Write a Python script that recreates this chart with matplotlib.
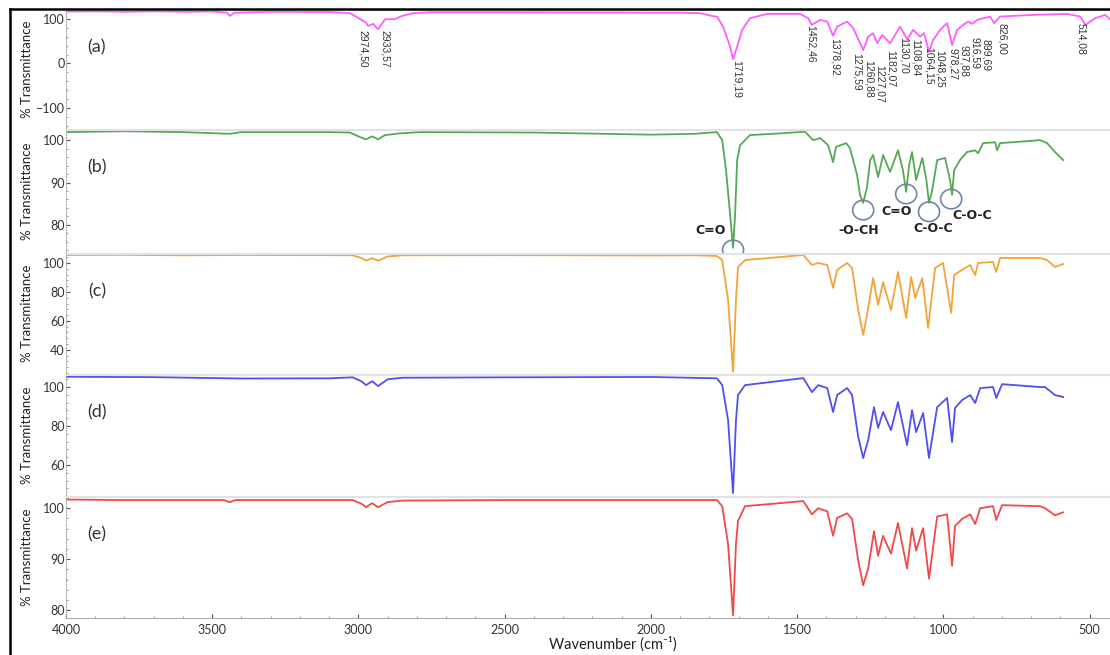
import numpy as np
import matplotlib.pyplot as plt
from matplotlib.patches import Ellipse
from matplotlib.ticker import AutoMinorLocator, MultipleLocator

plt.rcParams['font.family'] = ['Lato', 'DejaVu Sans']

# ---- spectra (wavenumber, % transmittance) ----
wn_a = [4000, 3900, 3800, 3700, 3600, 3500, 3450, 3439, 3425, 3300, 3100, 3029, 2995,
        2974, 2967, 2950, 2933, 2909, 2875, 2851, 2813, 2755, 2500, 2200, 2000, 1900,
        1832, 1787, 1774, 1753, 1729, 1719, 1705, 1688, 1661, 1603, 1490, 1462, 1450,
        1421, 1397, 1377, 1363, 1329, 1308, 1274, 1257, 1240, 1226, 1209, 1182, 1148,
        1124, 1103, 1079, 1066, 1049, 1035, 1011, 987, 970, 953, 932, 915, 902, 884,
        864, 840, 826, 806, 693, 577, 532, 514, 481, 447, 430]
t_a = [116.5, 117, 116, 117, 116, 116.5, 114, 106.7, 114, 116, 115.5, 112.8, 100,
       91.7, 84.3, 88.8, 76.8, 99.3, 99.3, 106.7, 112.8, 115, 115, 114.5, 114, 114,
       112.8, 106, 105.2, 82.7, 37.8, 9.4, 37.8, 75.3, 101.5, 111.2, 111.2, 101.5, 86.5,
       97.8, 94, 61.8, 82.7, 94, 79.1, 30.3, 60.2, 67.8, 45.4, 64, 45.4, 82.7,
       54.4, 75.3, 60.2, 67.8, 26.5, 52.8, 75.3, 90.3, 41.6, 75.3, 86.5, 94, 88.8, 97.8,
       101.5, 105.2, 90.3, 105.2, 109, 111.2, 105.2, 86.5, 101.5, 109, 99.3]

wn_b = [4000, 3800, 3600, 3439, 3400, 3100, 3029, 2994, 2974, 2953, 2933, 2909, 2858,
        2789, 2400, 2003, 1850, 1774, 1756, 1743, 1729, 1719, 1712, 1705, 1695, 1661,
        1558, 1473, 1445, 1421, 1394, 1377, 1367, 1332, 1319, 1295, 1285, 1274, 1261,
        1250, 1240, 1223, 1206, 1182, 1155, 1138, 1127, 1117, 1107, 1093, 1072, 1058,
        1049, 1038, 1021, 994, 977, 970, 963, 943, 919, 891, 881, 864, 823, 816, 806,
        669, 645, 618, 590]
t_b = [101.9, 102.1, 101.9, 101.5, 101.9, 101.9, 101.8, 100.7, 100.2, 100.9, 100.2, 101.2, 101.6,
       101.9, 101.8, 101.3, 101.5, 101.9, 100, 92.9, 82.4, 74.6, 82.4, 95.3, 98.8, 101.2,
       101.6, 102, 100, 100.5, 98.8, 94.8, 98.4, 99.3, 98.1, 91.8, 87.1, 85.2, 88.9,
       95.3, 96.5, 91.3, 96.5, 92.5, 97.6, 92.9, 87.8, 94.1, 97.2, 90.6, 95.8, 90.6,
       85.2, 88.2, 95.3, 95.8, 90.6, 87.1, 92.9, 95.3, 97.2, 97.6, 96.9, 99.3, 99.5, 97.6, 99.3,
       100, 99.3, 97.2, 95.3]

wn_c = [4000, 3800, 3600, 3400, 3100, 3020, 2990, 2974, 2953, 2933, 2900, 2850, 2500,
        2000, 1850, 1774, 1756, 1736, 1719, 1709, 1702, 1678, 1479, 1449, 1428, 1397,
        1377, 1363, 1329, 1312, 1291, 1274, 1261, 1240, 1223, 1206, 1179, 1155, 1127,
        1110, 1096, 1072, 1052, 1028, 1001, 973, 963, 936, 908, 891, 881, 830, 819,
        806, 669, 645, 618, 590]
t_c = [105.5, 105.6, 105.3, 105.5, 105.4, 105.3, 103.5, 101.6, 103.3, 101.6, 104.5, 105.3, 105.4,
       105.2, 105.3, 104.8, 102, 74.5, 24.8, 74.5, 97.2, 102, 105.5, 98.6, 100, 98.6,
       82.8, 95.2, 100, 96.5, 67.6, 50.3, 64.1, 89.6, 71, 86.9, 67.6, 93.8, 62,
       90.3, 75.8, 89.6, 55.1, 96.5, 100, 65.5, 91.7, 95.2, 98.6, 91.7, 100, 100.7, 93.8,
       103.4, 103.4, 102, 97.2, 99.3]

wn_d = [4000, 3700, 3400, 3100, 3020, 2990, 2974, 2953, 2933, 2900, 2850, 2500, 2000,
        1774, 1756, 1736, 1719, 1709, 1702, 1678, 1479, 1449, 1428, 1397, 1377, 1363,
        1329, 1312, 1291, 1274, 1257, 1237, 1223, 1206, 1179, 1155, 1124, 1107, 1093,
        1069, 1049, 1021, 987, 970, 960, 936, 908, 891, 874, 830, 819, 799, 669, 652,
        618, 590]
t_d = [105.3, 105.1, 104.4, 104.5, 105, 103, 101, 103, 100.5, 104, 104.8, 105, 105.2,
       104.5, 101, 83, 45.6, 83, 95.9, 101, 104.6, 97.4, 101, 99.5, 87.2, 95.9,
       99.5, 95.9, 74.4, 63.6, 72.8, 89.7, 79, 87.2, 77.9, 92.3, 70.2, 88.2, 76.9,
       86.7, 63.6, 89.7, 94.4, 71.8, 89.2, 93.3, 95.9, 91.8, 99.5, 100, 94.4, 101.5, 100, 100,
       95.9, 94.9]

wn_e = [4000, 3800, 3460, 3441, 3420, 3100, 3020, 2990, 2974, 2953, 2933, 2900, 2850,
        2500, 2000, 1774, 1756, 1736, 1719, 1709, 1702, 1678, 1479, 1449, 1428, 1397,
        1377, 1363, 1329, 1312, 1291, 1274, 1257, 1237, 1223, 1206, 1179, 1155, 1124,
        1107, 1093, 1069, 1049, 1021, 987, 970, 960, 936, 908, 891, 874, 830, 819, 799,
        669, 652, 618, 590]
t_e = [101.7, 101.6, 101.6, 101.2, 101.6, 101.6, 101.6, 100.9, 100.2, 101, 100.2, 101.2, 101.5,
       101.6, 101.6, 101.6, 100.4, 93, 79, 93, 97.5, 100.4, 101.4, 98.8, 100, 99.4,
       94.6, 98.1, 99, 97.9, 89.7, 84.9, 88.2, 95.5, 90.7, 94.6, 91.1, 97.1, 88.2,
       96.1, 91.7, 96.1, 86.2, 98.4, 98.8, 88.7, 96.5, 97.9, 98.8, 96.9, 100, 100.4, 97.7, 100.6,
       100.4, 100, 98.6, 99.2]

panel_names = ['(a)', '(b)', '(c)', '(d)', '(e)']
colors = ['#ff5cff', '#55a855', '#f2a33a', '#4f4ff2', '#f24848']
ylims = [(-145, 120), (73.6, 102.4), (24, 106.2), (44.6, 106.2), (78.5, 102.2)]
yticks = [[-100, 0, 100], [80, 90, 100], [40, 60, 80, 100], [60, 80, 100], [80, 90, 100]]

# peak labels on spectrum (a): wavenumber of label, text, top of label (data units)
peak_x = [2984, 2909, 1705, 1452, 1371, 1295, 1254, 1216, 1179, 1134, 1096,
          1049, 1011, 967, 929, 891, 854, 799, 530]
peak_txt = ['2974,50', '2933,57', '1719,19', '1452,46', '1378,92', '1275,59',
            '1260,88', '1227,07', '1182,07', '1130,70', '1108,84', '1064,15',
            '1048,25', '978,27', '937,88', '916,59', '899,69', '826,00', '514,08']
peak_top = [75, 75, 8, 86, 57, 24, 8, -3, 30, 60, 55, 37, 30, 35, 42, 60, 55, 91, 91]

# functional-group marks on spectrum (b)
grp_wn = [1719, 1274, 1127, 1049, 973]
grp_t = [74.1, 83.5, 87.3, 83.1, 86.1]
grp_txt = ['C=O', '-O-CH', 'C=O', 'C-O-C', 'C-O-C']
grp_txt_wn = [1797, 1291, 1161, 1035, 902]
grp_txt_t = [78.6, 78.6, 83.1, 79.1, 82.1]

W, H = 1110, 655
# panel extents in pixels (top, bottom)
rows = [(10, 128), (130, 252), (254, 373), (375, 495), (497, 618)]
xs = [wn_a, wn_b, wn_c, wn_d, wn_e]
ys = [t_a, t_b, t_c, t_d, t_e]

fig = plt.figure(figsize=(W / 100, H / 100), dpi=100)
axes = []
for i, (top, bot) in enumerate(rows):
    ax = fig.add_axes([66 / W, 1 - bot / H, 1 - 66 / W, (bot - top) / H])
    ax.plot(xs[i], ys[i], color=colors[i], lw=1.3)
    ax.set_xlim(4000, 430)
    ax.set_ylim(*ylims[i])
    ax.set_yticks(yticks[i])
    ax.yaxis.set_minor_locator(AutoMinorLocator(5))
    ax.xaxis.set_major_locator(MultipleLocator(500))
    ax.xaxis.set_minor_locator(MultipleLocator(100))
    ax.tick_params(axis='y', which='major', labelsize=9, length=3, direction='in',
                   colors='#555', labelcolor='#333', pad=1)
    ax.tick_params(axis='y', which='minor', length=1.5, direction='in', colors='#888')
    ax.tick_params(axis='x', which='major', labelsize=9, length=3, direction='in',
                   colors='#555', labelcolor='#333', pad=4)
    ax.tick_params(axis='x', which='minor', length=1.5, direction='in', colors='#888')
    ax.spines['right'].set_visible(False)
    ax.spines['left'].set_color('#aaaaaa')
    ax.spines['left'].set_linestyle((0, (1, 1.5)))
    ax.spines['top'].set_color('#e2e2e2')
    ax.spines['top'].set_linewidth(1.5)
    if i < 4:
        ax.spines['bottom'].set_visible(False)
        ax.tick_params(axis='x', which='both', bottom=False, labelbottom=False)
    else:
        ax.spines['bottom'].set_color('#aaaaaa')
    fig.text(27 / W, 1 - (top + bot) / 2 / H, '% Transmittance', rotation=90,
             ha='center', va='center', fontsize=9.5, color='#222')
    fig.text(97 / W, 1 - (top + 37) / H, panel_names[i], ha='center', va='center',
             fontsize=13, color='#333')
    axes.append(ax)

ax_a, ax_b = axes[0], axes[1]
for px, txt, pt in zip(peak_x, peak_txt, peak_top):
    ax_a.text(px, pt, txt, rotation=270, ha='center', va='top', fontsize=7.5,
              color='#333', family=['Liberation Sans', 'DejaVu Sans'])

for gx, gy in zip(grp_wn, grp_t):
    ax_b.add_patch(Ellipse((gx, gy), 72, 4.6, fill=False, edgecolor='#6f86a6',
                           lw=1.2, clip_on=False, zorder=5))
for tx, ty, txt in zip(grp_txt_wn, grp_txt_t, grp_txt):
    ax_b.text(tx, ty, txt, ha='center', va='center', fontsize=9, fontweight='bold',
              color='#222', family=['DejaVu Sans'])

fig.text(613 / W, 1 - 644 / H, 'Wavenumber (cm⁻¹)', ha='center', va='center',
         fontsize=10.5, color='#222')

# outer frame of the original figure
fig.add_artist(plt.Line2D([10 / W, 10 / W], [0, 1 - 9 / H], color='black', lw=1.8))
fig.add_artist(plt.Line2D([10 / W, 1], [1 - 9 / H, 1 - 9 / H], color='black', lw=1.8))

fig.savefig('out.png', dpi=100)
